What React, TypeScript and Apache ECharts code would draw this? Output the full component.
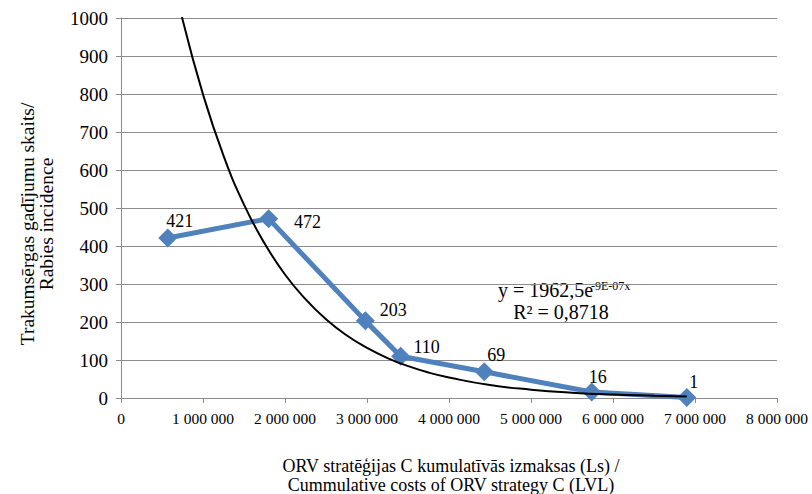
import React, { useEffect, useRef } from "react";
import * as echarts from "echarts";

// Data (costs in LVL, incidence counts)
const costs = [570000, 1800000, 2980000, 3410000, 4430000, 5740000, 6900000];
const incidence = [421, 472, 203, 110, 69, 16, 1];

// Exponential trendline
const trendX = [570000, 750000, 1000000, 1250000, 1500000, 1750000, 2000000, 2250000, 2500000, 2750000, 3000000, 3250000, 3500000, 3750000, 4000000, 4500000, 5000000, 5500000, 6000000, 6500000, 6900000];
const trendY = [1175, 997, 799, 638, 509, 407, 325, 260, 207, 165, 132, 105, 84, 67, 54, 34, 22, 14, 9, 6, 4];

const xTicks = { min: 0, max: 8000000, interval: 1000000 };
const yTicks = { min: 0, max: 1000, interval: 100 };

const yTitle = ["Trakumsērgas gadījumu skaits/", "Rabies incidence"];
const xTitle = ["ORV stratēģijas C kumulatīvās izmaksas (Ls) /", "Cummulative costs of ORV strategy C (LVL)"];
const eqMain = "y = 1962,5e";
const eqSup = "-9E-07x";
const eqR2 = "R² = 0,8718";

// label offsets (pixels) relative to marker centre
const labelOffsets = [[12, -17], [39, 3], [28, -11], [26, -9], [12, -17], [6, -15], [7, -16]];

const FONT = "Liberation Serif";

const fmt = (v: number) => String(v).replace(/\B(?=(\d{3})+(?!\d))/g, " ");

export default function App() {
  const ref = useRef<HTMLDivElement>(null);
  useEffect(() => {
    if (!ref.current) return;
    const chart = echarts.init(ref.current, null, { renderer: "svg" });
    const mainData = costs.map((c, i) => ({
      value: [c, incidence[i]],
      label: { offset: labelOffsets[i] },
    }));
    chart.setOption({
      animation: false,
      backgroundColor: "#ffffff",
      textStyle: { fontFamily: FONT },
      grid: { left: 121, top: 18, right: 35, bottom: 96 },
      xAxis: {
        type: "value",
        min: xTicks.min,
        max: xTicks.max,
        interval: xTicks.interval,
        axisLine: { lineStyle: { color: "#8c8c8c", width: 1 } },
        axisTick: { show: true, length: 5, inside: false, lineStyle: { color: "#8c8c8c" } },
        axisLabel: { color: "#000", fontFamily: FONT, fontSize: 15.5, margin: 12, formatter: (v: number) => fmt(v) },
        splitLine: { show: false },
      },
      yAxis: {
        type: "value",
        min: yTicks.min,
        max: yTicks.max,
        interval: yTicks.interval,
        axisLine: { show: true, lineStyle: { color: "#8c8c8c", width: 1 } },
        axisTick: { show: true, length: 5, lineStyle: { color: "#8c8c8c" } },
        axisLabel: { color: "#000", fontFamily: FONT, fontSize: 19, margin: 13, formatter: (v: number) => String(v) },
        splitLine: { show: true, lineStyle: { color: "#8c8c8c", width: 1 } },
      },
      series: [
        {
          type: "line",
          data: mainData,
          symbol: "diamond",
          symbolSize: 19,
          lineStyle: { color: "#4F81BD", width: 5 },
          itemStyle: { color: "#4F81BD" },
          label: {
            show: true,
            position: "inside",
            align: "center",
            verticalAlign: "middle",
            color: "#000",
            fontFamily: FONT,
            fontSize: 18,
            formatter: (p: any) => String(p.value[1]),
          },
          z: 2,
        },
        {
          type: "line",
          data: trendX.map((x, i) => [x, trendY[i]]),
          smooth: true,
          symbol: "none",
          lineStyle: { color: "#000", width: 2 },
          clip: true,
          z: 3,
          silent: true,
        },
      ],
      graphic: [
        {
          type: "text",
          x: 37,
          y: 224,
          rotation: Math.PI / 2,
          style: {
            text: yTitle.join("\n"),
            fontFamily: FONT,
            fontSize: 19.5,
            lineHeight: 19,
            fill: "#000",
            align: "center",
            verticalAlign: "middle",
          },
        },
        {
          type: "text",
          x: 451,
          y: 475,
          style: {
            text: xTitle.join("\n"),
            fontFamily: FONT,
            fontSize: 18,
            lineHeight: 19,
            fill: "#000",
            align: "center",
            verticalAlign: "middle",
          },
        },
        {
          type: "text",
          x: 498,
          y: 290,
          style: { text: eqMain, fontFamily: FONT, fontSize: 20, fill: "#000", align: "left", verticalAlign: "middle" },
        },
        {
          type: "text",
          x: 591,
          y: 286,
          style: { text: eqSup, fontFamily: FONT, fontSize: 12, fill: "#000", align: "left", verticalAlign: "middle" },
        },
        {
          type: "text",
          x: 561,
          y: 312,
          style: { text: eqR2, fontFamily: FONT, fontSize: 20, fill: "#000", align: "center", verticalAlign: "middle" },
        },
      ],
    });
    return () => chart.dispose();
  }, []);
  return <div ref={ref} style={{ position: "fixed", left: 0, top: 0, width: 812, height: 494 }} />;
}
